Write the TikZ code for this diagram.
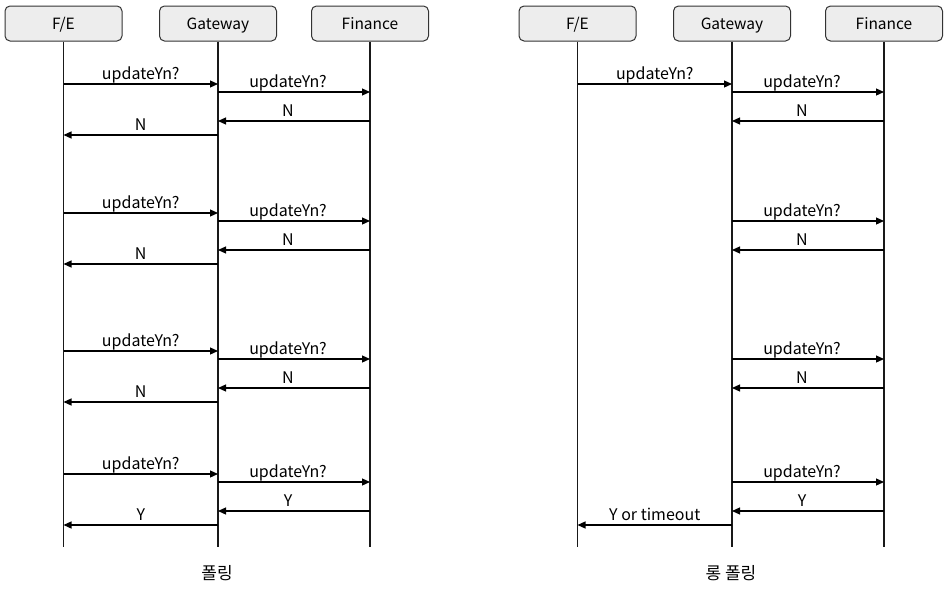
\documentclass[tikz,border=0pt]{standalone}
\usepackage{fontspec}
\setmainfont{Noto Sans CJK KR}
\usetikzlibrary{arrows.meta}
\begin{document}
\begin{tikzpicture}[x=1pt,y=-1pt,
  actor/.style={draw=black!80,line width=1pt,fill=black!7,rounded corners=5pt,minimum width=117pt,minimum height=35pt,inner sep=0pt,text height=13pt,text depth=1pt,font=\fontsize{15.5}{17}\selectfont},
  life/.style={line width=1.2pt,black!90},
  msg/.style={line width=1.2pt,-{Triangle[length=8pt,width=7pt]}},
  lbl/.style={anchor=base,yshift=4.5pt,inner sep=0pt,font=\fontsize{16}{18}\selectfont},
  captxt/.style={font=\fontsize{17}{19}\selectfont,inner sep=0pt}]
\useasboundingbox (0,0) rectangle (945,589);
% left diagram
\node[actor] (fe1) at (63.5,23.5) {F/E};
\node[actor] (gw1) at (218,23.5) {Gateway};
\node[actor] (fi1) at (370,23.5) {Finance};
% right diagram
\node[actor] (fe2) at (577.5,23.5) {F/E};
\node[actor] (gw2) at (732,23.5) {Gateway};
\node[actor] (fi2) at (884,23.5) {Finance};
% lifelines
\foreach \n in {fe1,gw1,fi1,fe2,gw2,fi2}{
  \coordinate (\n end) at (\n.south |- 0,547);
  \draw[life] (\n.south) -- (\n end);
}
% left: polling
\foreach \y/\r/\a in {84/N/N,213/N/N,351/N/N,474/Y/Y}{
  \draw[msg] (fe1 |- 0,\y) -- node[lbl] {updateYn?} (gw1 |- 0,\y);
  \draw[msg] (gw1 |- 0,\y+8) -- node[lbl,xshift=-6pt] {updateYn?} (fi1 |- 0,\y+8);
  \draw[msg] (fi1 |- 0,\y+37) -- node[lbl,xshift=-6pt] {\r} (gw1 |- 0,\y+37);
  \draw[msg] (gw1 |- 0,\y+51) -- node[lbl] {\a} (fe1 |- 0,\y+51);
}
% right: long polling
\draw[msg] (fe2 |- 0,84) -- node[lbl] {updateYn?} (gw2 |- 0,84);
\foreach \y/\r in {92/N,221/N,359/N,482/Y}{
  \draw[msg] (gw2 |- 0,\y) -- node[lbl,xshift=-6pt] {updateYn?} (fi2 |- 0,\y);
  \draw[msg] (fi2 |- 0,\y+29) -- node[lbl,xshift=-6pt] {\r} (gw2 |- 0,\y+29);
}
\draw[msg] (gw2 |- 0,525) -- node[lbl] {Y or timeout} (fe2 |- 0,525);
% captions
\node[captxt] (c1) at (217,573) {폴링};
\node[captxt] (c2) at (731,573) {롱 폴링};
\end{tikzpicture}
\end{document}
